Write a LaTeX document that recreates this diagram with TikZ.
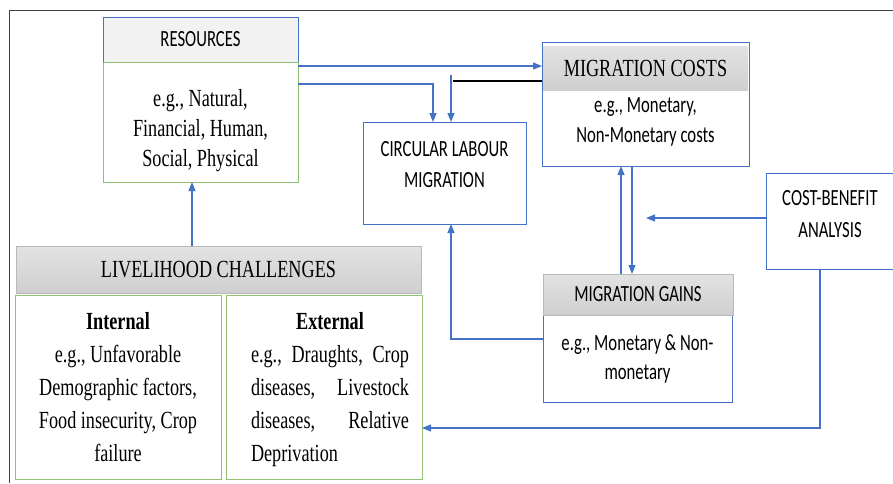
\documentclass[tikz,border=0pt]{standalone}
\usepackage{fontspec}
\usetikzlibrary{arrows.meta}
% fonts of the figure: a narrowed Times and a narrowed Calibri
\newfontfamily\seriffam{Liberation Serif}[FakeStretch=0.74]
\newfontfamily\sansfam{Carlito}[FakeStretch=0.72]
\definecolor{linkblue}{HTML}{4472C4}
\definecolor{boxgreen}{HTML}{8FC170}
\definecolor{framegrey}{HTML}{404040}
\newcommand{\fullline}[1]{\hbox to 158pt{#1}}
\tikzset{
  box/.style={draw=linkblue, line width=1pt, inner sep=0pt, outer sep=0pt},
  greenbox/.style={draw=boxgreen, line width=1pt, inner sep=0pt, outer sep=0pt},
  greyhead/.style={draw=gray!55, line width=0.8pt, top color=gray!22, bottom color=gray!38, inner sep=0pt, outer sep=0pt},
  sanstext/.style={font={\sansfam\fontsize{23.2}{31}\selectfont}, align=center, inner sep=0pt},
  seriftext/.style={font={\seriffam\fontsize{24.6}{30}\selectfont}, align=center, inner sep=0pt},
  link/.style={draw=linkblue, line width=1.2pt, -{Triangle[length=9pt,width=7pt]}},
}
\begin{document}
\begin{tikzpicture}[x=1pt,y=-1pt]
  \useasboundingbox (0,0) rectangle (893,483);
  % the frame: only its top and left side are seen
  \draw [framegrey, line width=1pt] (9,483) -- (9,10) -- (893,10);

  % Resources: light header on a green body
  \node [box, fill=gray!10, minimum width=195pt, minimum height=45pt, sanstext] (reshead) at (200.5,39.5) {RESOURCES};
  \node [greenbox, minimum width=195pt, minimum height=120pt] (resbody) at (200.5,122) {};
  \node [seriftext] (restext) at (200.5,131) {e.g., Natural,\\Financial, Human,\\Social, Physical};

  % Circular labour migration
  \node [box, minimum width=163pt, minimum height=102pt] (clm) at (444.5,173) {};
  \node [sanstext] (clmtext) at (444.5,165) {CIRCULAR LABOUR\\MIGRATION};

  % Migration costs: grey header inside a blue box
  \node [box, minimum width=207pt, minimum height=124pt] (costbox) at (645.5,104) {};
  \node [greyhead, draw=none, minimum width=205pt, minimum height=44pt, font={\seriffam\fontsize{24.6}{30}\selectfont}] (costhead) at (645.5,68) {MIGRATION COSTS};
  \node [sanstext, font={\sansfam\fontsize{23.2}{30}\selectfont}] (costtext) at (645.5,122) {e.g., Monetary,\\Non-Monetary costs};

  % Cost-benefit analysis, cut by the right edge
  \node [box, minimum width=130pt, minimum height=96pt] (cba) at (831,221) {};
  \node [sanstext, font={\sansfam\fontsize{23.2}{32}\selectfont}] (cbatext) at (830,214) {COST-BENEFIT\\ANALYSIS};

  % Migration gains
  \node [box, minimum width=189pt, minimum height=87pt, sanstext, font={\sansfam\fontsize{23.2}{29}\selectfont}] (gainbody) at (637.5,358.5) {e.g., Monetary \& Non-\\monetary};
  \node [greyhead, minimum width=190pt, minimum height=41pt, sanstext] (gainhead) at (638,294.5) {MIGRATION GAINS};

  % Livelihood challenges and its two halves
  \node [greyhead, minimum width=405pt, minimum height=47pt, font={\seriffam\fontsize{24.6}{30}\selectfont}] (lchead) at (218.5,269.5) {LIVELIHOOD CHALLENGES};
  \node [greenbox, minimum width=206pt, minimum height=184pt, seriftext, font={\seriffam\fontsize{24.6}{33}\selectfont}] (internal) at (118,387)
    {\textbf{Internal}\\e.g., Unfavorable\\Demographic factors,\\Food insecurity, Crop\\failure};
  \node [greenbox, minimum width=196pt, minimum height=184pt] (external) at (324,387) {};
  \node [seriftext, font={\seriffam\fontsize{24.6}{33}\selectfont}] (exttext) at (330,389.5)
    {\fullline{\hfil\textbf{External}\hfil}\\
     \fullline{e.g.,\hfill Draughts,\hfill Crop}\\
     \fullline{diseases,\hfill Livestock}\\
     \fullline{diseases,\hfill Relative}\\
     \fullline{Deprivation\hfil}};

  % Connectors
  \draw [link] ([xshift=-26.5pt]lchead.north) -- ([xshift=-26.5pt]lchead.north |- resbody.south);
  \draw [link] ([yshift=-4pt]resbody.north east) -- ([yshift=-4pt]resbody.north east -| costbox.west);
  \draw [link] ([yshift=-22pt]resbody.north east) -| ([xshift=-11.5pt]clm.north);
  % the black feed from the costs and the blue drop into the migration box
  \coordinate (bend) at (453,81);
  \coordinate (drop) at (451,75);
  \draw [black, line width=1.2pt] (costbox.west |- bend) -- (bend);
  \draw [link] (drop) -- (drop |- clm.north);
  % costs and gains, both ways
  \draw [link] ([xshift=-17pt]gainhead.north) -- ([xshift=-17pt]gainhead.north |- costbox.south);
  \draw [link] ([xshift=-6pt]gainhead.north |- costbox.south) -- ([xshift=-6pt]gainhead.north);
  \coordinate (cbatip) at (646,218);
  \draw [link] (cba.west |- cbatip) -- (cbatip);
  \draw [link] ([yshift=19.5pt]gainbody.west) -| ([xshift=6.5pt]clm.south);
  \draw [link] ([xshift=-11pt]cba.south) |- ([yshift=-41pt]external.east);
\end{tikzpicture}
\end{document}
